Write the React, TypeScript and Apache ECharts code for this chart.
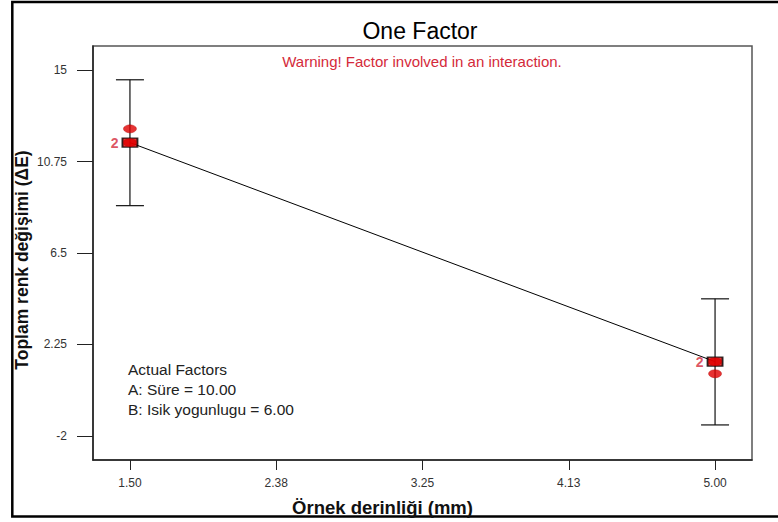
import React, { useEffect, useRef } from "react";
import * as echarts from "echarts";

const xTickValues = [1.5, 2.375, 3.25, 4.125, 5];
const xTickLabels = ["1.50", "2.38", "3.25", "4.13", "5.00"];
const yTickValues = [-2, 2.25, 6.5, 10.75, 15];
const yTickLabels = ["-2", "2.25", "6.5", "10.75", "15"];

const depthLevels = [1.5, 5.0];
const predicted = [11.63, 1.45];
const ciLow = [8.7, -1.49];
const ciHigh = [14.55, 4.37];
const designPoints: [number, number][] = [
  [1.5, 12.27],
  [1.5, 11.63],
  [5.0, 1.45],
  [5.0, 0.89],
];
const replicateCounts = ["2", "2"];

const FONT = "Liberation Sans, Arial, sans-serif";

export default function App() {
  const ref = useRef<HTMLDivElement>(null);
  useEffect(() => {
    document.body.style.margin = "0";
    if (!ref.current) return;
    const chart = echarts.init(ref.current, undefined, { renderer: "svg" });
    const lineData = depthLevels.map((x, i) => [x, predicted[i]]);
    const errData = depthLevels.map((x, i) => [x, ciLow[i], ciHigh[i]]);
    const rectData = depthLevels.map((x, i) => ({
      value: [x, predicted[i]],
      label: { formatter: replicateCounts[i] },
    }));
    chart.setOption({
      animation: false,
      backgroundColor: "#ffffff",
      grid: {
        left: 93,
        top: 46,
        right: 26,
        bottom: 62,
        show: true,
        borderColor: "#555555",
        borderWidth: 1.5,
        containLabel: false,
      },
      xAxis: {
        type: "value",
        min: 1.279,
        max: 5.221,
        splitLine: { show: false },
        axisLine: { show: true, onZero: false, lineStyle: { color: "#222", width: 1.5 } },
        axisTick: {
          show: true,
          inside: false,
          length: 10,
          customValues: xTickValues,
          lineStyle: { color: "#222", width: 1 },
        },
        axisLabel: {
          customValues: xTickValues,
          margin: 17,
          fontFamily: FONT,
          fontSize: 12,
          color: "#333",
          formatter: (v: number) => {
            const i = xTickValues.findIndex((t) => Math.abs(t - v) < 1e-6);
            return i >= 0 ? xTickLabels[i] : "";
          },
        },
      },
      yAxis: {
        type: "value",
        min: -3.12,
        max: 16.12,
        splitLine: { show: false },
        axisLine: { show: true, onZero: false, lineStyle: { color: "#222", width: 1.5 } },
        axisTick: {
          show: true,
          inside: false,
          length: 16,
          customValues: yTickValues,
          lineStyle: { color: "#222", width: 1 },
        },
        axisLabel: {
          customValues: yTickValues,
          margin: 26,
          fontFamily: FONT,
          fontSize: 12,
          color: "#333",
          formatter: (v: number) => {
            const i = yTickValues.findIndex((t) => Math.abs(t - v) < 1e-6);
            return i >= 0 ? yTickLabels[i] : "";
          },
        },
      },
      series: [
        {
          type: "custom",
          z: 1,
          data: errData,
          renderItem: (params: any, api: any) => {
            const x = api.value(0);
            const lo = api.coord([x, api.value(1)]);
            const hi = api.coord([x, api.value(2)]);
            const hw = 14;
            const style = { stroke: "#111", lineWidth: 1.2 };
            return {
              type: "group",
              children: [
                { type: "line", shape: { x1: lo[0], y1: lo[1], x2: hi[0], y2: hi[1] }, style },
                { type: "line", shape: { x1: lo[0] - hw, y1: lo[1], x2: lo[0] + hw, y2: lo[1] }, style },
                { type: "line", shape: { x1: hi[0] - hw, y1: hi[1], x2: hi[0] + hw, y2: hi[1] }, style },
              ],
            };
          },
        },
        {
          type: "line",
          z: 2,
          data: lineData,
          showSymbol: false,
          symbol: "none",
          lineStyle: { color: "#000", width: 1 },
        },
        {
          type: "scatter",
          z: 3,
          symbol: "rect",
          symbolSize: [15, 9],
          data: rectData,
          itemStyle: { color: "#e00000", borderColor: "#000", borderWidth: 1.5 },
          label: {
            show: true,
            position: "left",
            distance: 3,
            color: "#d42a3a",
            fontFamily: FONT,
            fontWeight: "bold",
            fontSize: 14,
          },
        },
        {
          type: "scatter",
          z: 4,
          symbol: "circle",
          symbolSize: [13, 8],
          data: designPoints,
          itemStyle: { color: "#e00000", borderColor: "#b00000", borderWidth: 0.5 },
        },
      ],
      graphic: [
        {
          type: "rect",
          shape: { x: 12.3, y: 2, width: 800, height: 514.5 },
          style: { fill: "none", stroke: "#000", lineWidth: 2.5 },
          silent: true,
        },
        {
          type: "text",
          x: 420,
          y: 31,
          style: {
            text: "One Factor",
            fontFamily: FONT,
            fontSize: 23,
            fill: "#000",
            textAlign: "center",
            textVerticalAlign: "middle",
          },
        },
        {
          type: "text",
          x: 422,
          y: 61,
          style: {
            text: "Warning! Factor involved in an interaction.",
            fontFamily: FONT,
            fontSize: 15,
            fill: "#d42a3a",
            textAlign: "center",
            textVerticalAlign: "middle",
          },
        },
        {
          type: "text",
          x: 128,
          y: 359,
          style: {
            text: "Actual Factors\nA: Süre = 10.00\nB: Isik yogunlugu = 6.00",
            fontFamily: FONT,
            fontSize: 15.5,
            lineHeight: 20,
            fill: "#222",
            textAlign: "left",
            textVerticalAlign: "top",
          },
        },
        {
          type: "text",
          x: 382.5,
          y: 507,
          style: {
            text: "Örnek derinliği (mm)",
            fontFamily: FONT,
            fontSize: 18.5,
            fontWeight: "bold",
            fill: "#111",
            textAlign: "center",
            textVerticalAlign: "middle",
          },
        },
        {
          type: "text",
          x: 22,
          y: 260,
          rotation: Math.PI / 2,
          style: {
            text: "Toplam renk değişimi (ΔE)",
            fontFamily: FONT,
            fontSize: 17.5,
            fontWeight: "bold",
            fill: "#111",
            textAlign: "center",
            textVerticalAlign: "middle",
          },
        },
      ],
    });
    return () => chart.dispose();
  }, []);
  return <div ref={ref} style={{ width: 778, height: 522 }} />;
}
